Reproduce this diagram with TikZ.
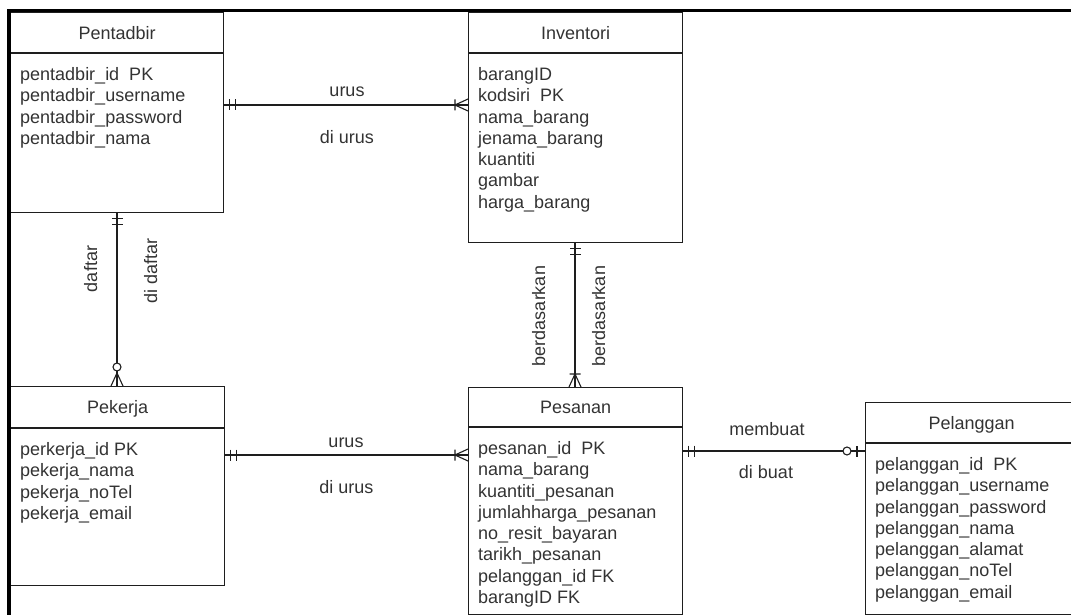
\documentclass[tikz,border=0pt]{standalone}
\usepackage{fontspec}
\setmainfont{Liberation Sans}
\usetikzlibrary{calc}
\definecolor{edge}{HTML}{1E1E1E}
\definecolor{ink}{HTML}{333333}

% entity box: name, x, y, width, header height, body height, title, attributes
\newcommand\erentity[8]{%
  \node[ehead, minimum width=#4, minimum height=#5] (#1-h) at (#2,#3) {#7};
  \node[ebody, minimum width=#4, minimum height=#6] (#1) at (#1-h.south west) {};
  \node[eattr] (#1-a) at ([xshift=10pt,yshift=-14pt]#1.north west) {#8};
}

\begin{document}
\begin{tikzpicture}[x=1pt,y=-1pt,
  every node/.style={text=ink, font=\fontsize{18}{21.3}\selectfont},
  conn/.style={draw=edge, line width=1.1pt},
  ehead/.style={draw=edge, line width=1.2pt, anchor=north west, inner sep=0pt,
                text height=13pt, text depth=0pt},
  ebody/.style={draw=edge, line width=1.2pt, anchor=north west, inner sep=0pt},
  eattr/.style={anchor=north west, inner sep=0pt, align=left},
  rel/.style={inner sep=0pt, anchor=base},
  % crow's foot end marks, drawn outward along +x from the box edge
  mandone/.pic={\draw[conn] (5,-5.5) -- (5,5.5) (11,-5.5) -- (11,5.5);},
  onemany/.pic={\draw[conn] (13,-5.5) -- (13,5.5) (0,-6) -- (13,0) -- (0,6);},
  zeromany/.pic={\draw[conn] (0,-6) -- (13,0) -- (0,6);
                 \draw[conn, fill=white] (19,0) circle (4);},
  zeroone/.pic={\draw[conn] (8,-5.5) -- (8,5.5);
                \draw[conn, fill=white] (18,0) circle (4);}
]
\useasboundingbox (0,0) rectangle (1071,615);
\clip (0,0) rectangle (1071,615);

% entities
\erentity{pentadbir}{10}{12}{213}{40}{159}{Pentadbir}
  {pentadbir\_id~~PK\\pentadbir\_username\\pentadbir\_password\\pentadbir\_nama}
\erentity{inventori}{468}{12}{214}{40}{189}{Inventori}
  {barangID\\kodsiri~~PK\\nama\_barang\\jenama\_barang\\kuantiti\\gambar\\harga\_barang}
\erentity{pekerja}{10}{386}{214}{41}{157}{Pekerja}
  {perkerja\_id PK\\pekerja\_nama\\pekerja\_noTel\\pekerja\_email}
\erentity{pesanan}{468}{387}{214}{39}{187}{Pesanan}
  {pesanan\_id~~PK\\nama\_barang\\kuantiti\_pesanan\\jumlahharga\_pesanan\\no\_resit\_bayaran\\tarikh\_pesanan\\pelanggan\_id FK\\barangID FK}
\erentity{pelanggan}{865}{402}{212}{40}{171}{Pelanggan}
  {pelanggan\_id~~PK\\pelanggan\_username\\pelanggan\_password\\pelanggan\_nama\\pelanggan\_alamat\\pelanggan\_noTel\\pelanggan\_email}

% page frame (top and left edges)
\draw[line width=3.3pt, black] (1080,10.8) -- (9,10.8) -- (9,620);

% Pentadbir -- Inventori
\draw[conn] (pentadbir.east |- 0,105) -- (inventori.west |- 0,105);
\pic at (pentadbir.east |- 0,105) {mandone};
\pic[rotate=180] at (inventori.west |- 0,105) {onemany};
\node[rel] (r1a) at (347,96.5) {urus};
\node[rel] (r1b) at (347,143) {di urus};

% Pentadbir -- Pekerja
\draw[conn] (117,0 |- pentadbir.south) -- (117,0 |- pekerja-h.north);
\pic[rotate=-90] at (117,0 |- pentadbir.south) {mandone};
\pic[rotate=90] at (117,0 |- pekerja-h.north) {zeromany};
\node[rel, rotate=90] (r2a) at (97,269) {daftar};
\node[rel, rotate=90] (r2b) at (157,271) {di daftar};

% Inventori -- Pesanan
\draw[conn] (575,0 |- inventori.south) -- (575,0 |- pesanan-h.north);
\pic[rotate=-90] at (575,0 |- inventori.south) {mandone};
\pic[rotate=90] at (575,0 |- pesanan-h.north) {onemany};
\node[rel, rotate=90] (r3a) at (545,316) {berdasarkan};
\node[rel, rotate=90] (r3b) at (605,316) {berdasarkan};

% Pekerja -- Pesanan
\draw[conn] (pekerja.east |- 0,455) -- (pesanan.west |- 0,455);
\pic at (pekerja.east |- 0,455) {mandone};
\pic[rotate=180] at (pesanan.west |- 0,455) {onemany};
\node[rel] (r4a) at (346,447) {urus};
\node[rel] (r4b) at (346.5,493) {di urus};

% Pesanan -- Pelanggan
\draw[conn] (pesanan.east |- 0,451) -- (pelanggan.west |- 0,451);
\pic at (pesanan.east |- 0,451) {mandone};
\pic[rotate=180] at (pelanggan.west |- 0,451) {zeroone};
\node[rel] (r5a) at (767,435) {membuat};
\node[rel] (r5b) at (766,478) {di buat};
\end{tikzpicture}
\end{document}
